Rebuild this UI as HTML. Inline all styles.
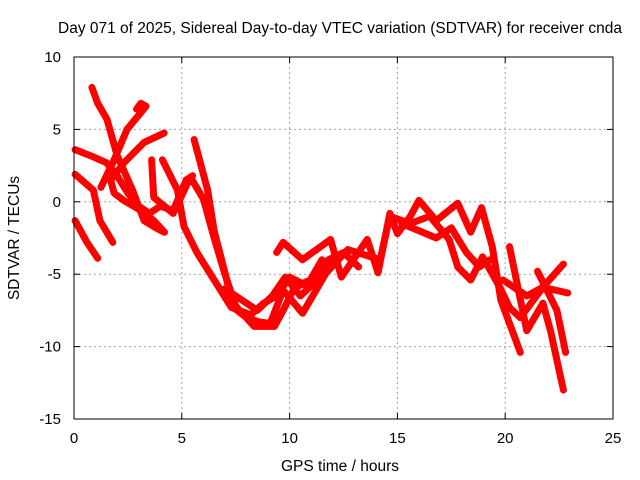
<!DOCTYPE html>
<html><head><meta charset="utf-8"><style>
body{margin:0;background:#fff;}
svg{display:block;font-family:"Liberation Sans",sans-serif;}
</style></head><body>
<svg id="chart" width="640" height="480">
<text x="340" y="33" text-anchor="middle" font-size="15.5">Day 071 of 2025, Sidereal Day-to-day VTEC variation (SDTVAR) for receiver cnda</text>
<text x="340" y="471" text-anchor="middle" font-size="15.5">GPS time / hours</text>
<text transform="translate(19,238) rotate(-90)" text-anchor="middle" font-size="15.5">SDTVAR / TECUs</text>
<g id="grid"></g>
<g id="ticks"></g>
<g id="series"></g>
<rect x="74" y="57" width="539" height="362" fill="none" stroke="#000" stroke-width="1"/>
</svg>
<script>
const xTicks=[0,5,10,15,20,25];
const yTicks=[10,5,0,-5,-10,-15];
const tracks=[
[[0.83,7.9],[1.1,6.8],[1.53,5.7],[2.0,3.2],[2.69,0.9],[3.25,-1.3],[3.8,-1.8],[4.18,-2.1]],
[[2.9,6.4],[3.1,6.8],[3.34,6.6],[2.46,5.0],[1.86,2.9],[1.25,1.0]],
[[4.18,4.75],[3.25,4.1],[2.32,2.7],[1.7,1.5],[1.86,0.6],[2.3,0.1],[3.1,-0.6],[3.7,-1.3],[4.2,-2.1]],
[[0.05,3.6],[0.9,3.1],[1.5,2.7],[2.0,1.8],[2.5,0.6],[3.0,-0.3],[3.5,-0.8],[4.0,-0.3],[4.6,-0.6],[5.2,1.5],[5.5,1.8]],
[[0.05,1.9],[0.9,0.8],[1.2,-1.3],[1.8,-2.8]],
[[0.05,-1.3],[0.6,-2.8],[1.1,-3.9]],
[[3.6,2.9],[3.7,0.3],[4.6,-0.8],[5.4,1.7],[6.0,0.2],[6.5,-2.5],[7.0,-5.0],[7.5,-7.2],[8.35,-8.6],[9.3,-8.6],[9.7,-7.5],[10.2,-6.0],[10.8,-5.5]],
[[5.57,4.3],[6.2,0.8],[6.5,-2.0],[7.0,-4.9],[7.4,-7.3],[8.0,-8.0],[8.6,-8.3],[9.1,-8.4],[9.7,-6.1],[10.6,-7.7],[11.7,-4.9],[12.7,-3.3],[14.2,-4.0],[14.65,-1.0],[15.6,-1.5],[16.5,-1.0],[17.4,-2.6],[17.8,-4.5],[18.4,-5.4],[18.95,-3.8],[19.75,-5.9],[20.2,-7.3],[20.7,-8.0],[21.75,-5.9],[22.7,-4.3]],
[[4.1,2.9],[4.8,0.8],[5.1,-1.7],[5.7,-3.5],[6.5,-5.4],[7.3,-7.3],[8.2,-7.8],[8.8,-7.0],[9.4,-6.5],[10.0,-5.2],[10.8,-5.8],[11.5,-4.0]],
[[7.0,-6.0],[7.8,-6.8],[8.5,-7.5],[9.2,-6.5],[9.8,-5.2],[10.5,-6.5],[11.2,-5.5],[11.8,-4.0],[12.5,-3.5],[13.2,-4.5]],
[[9.4,-3.5],[9.7,-2.8],[10.6,-4.0],[11.9,-2.6],[12.4,-5.2],[13.6,-2.6],[14.1,-4.9],[14.65,-0.8],[15.0,-2.2],[15.6,-1.0],[16.0,0.1],[16.8,-1.3],[17.8,-0.1],[18.4,-2.1],[18.9,-0.4],[19.4,-3.1],[19.8,-6.8],[20.7,-10.4]],
[[15.2,-1.5],[16.0,-2.0],[16.8,-2.5],[17.5,-1.8],[18.2,-3.5],[18.8,-4.5],[19.3,-4.0]],
[[20.2,-3.1],[21.0,-8.9],[21.75,-7.0],[22.1,-8.9],[22.7,-13.0]],
[[21.5,-4.8],[22.4,-7.5],[22.8,-10.4]],
[[19.9,-5.4],[21.0,-6.5],[21.75,-5.9],[22.9,-6.3]]
];
const X0=74,X1=613,Y0=419,Y1=57;
const xs=t=>X0+(t-0)/25*(X1-X0);
const ys=v=>Y0-(v+15)/25*(Y0-Y1);
const NS="http://www.w3.org/2000/svg";
const grid=document.getElementById('grid'),ticks=document.getElementById('ticks'),ser=document.getElementById('series');
function mk(tag,attrs,parent){const e=document.createElementNS(NS,tag);for(const k in attrs)e.setAttribute(k,attrs[k]);parent.appendChild(e);return e;}
xTicks.forEach(t=>{const x=xs(t);
 if(t>0&&t<25){const g=mk('line',{x1:x,x2:x,y1:Y1,y2:Y0,stroke:'#a0a0a0','stroke-dasharray':'2,3'},grid);
 
 }
 mk('line',{x1:x,x2:x,y1:Y0,y2:Y0-6,stroke:'#000'},ticks);
 mk('line',{x1:x,x2:x,y1:Y1,y2:Y1+6,stroke:'#000'},ticks);
 const l=mk('text',{x:x,y:443,'text-anchor':'middle','font-size':15},ticks);l.textContent=t;
 
 
});
yTicks.forEach(v=>{const y=ys(v);
 if(v>-15&&v<10){const g=mk('line',{x1:X0,x2:X1,y1:y,y2:y,stroke:'#a0a0a0','stroke-dasharray':'2,3'},grid);
 
 }
 mk('line',{x1:X0,x2:X0+6,y1:y,y2:y,stroke:'#000'},ticks);
 mk('line',{x1:X1,x2:X1-6,y1:y,y2:y,stroke:'#000'},ticks);
 const l=mk('text',{x:61,y:y+5,'text-anchor':'end','font-size':15},ticks);l.textContent=v;
 
 
});
tracks.forEach((tr,i)=>{
 const p=mk('polyline',{points:tr.map(d=>xs(d[0])+','+ys(d[1])).join(' '),fill:'none',stroke:'#ff0000','stroke-width':7,'stroke-linejoin':'round','stroke-linecap':'round'},ser);
 
 
});
</script>
</body></html>
